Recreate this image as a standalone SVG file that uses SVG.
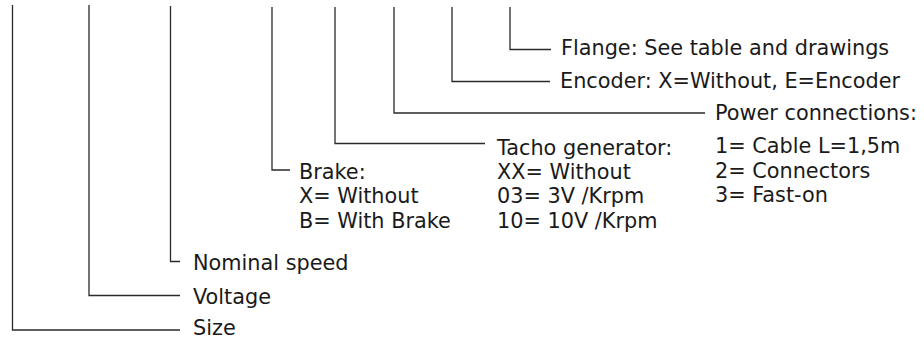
<svg xmlns="http://www.w3.org/2000/svg" width="924" height="341" viewBox="0 0 924 341">
<style>
.c{fill:none;stroke:#2a2a2a;stroke-width:1.3}
.t{font-family:"DejaVu Sans",Verdana,sans-serif;font-size:20.8px;fill:#1a1a1a}
</style>
<rect width="924" height="341" fill="#fff"/>
<g id="connectors">
<path class="c" d="M12.5 5V330H180"/>
<path class="c" d="M89 5V295.5H180"/>
<path class="c" d="M170.5 6V261.5H180"/>
<path class="c" d="M272 7V170H290"/>
<path class="c" d="M335 7V143.5H485"/>
<path class="c" d="M394 7V113H705"/>
<path class="c" d="M452 7V81.5H550"/>
<path class="c" d="M510 7V49.5H551"/>
</g>
<g id="flange"><text class="t" x="561" y="55">Flange: See table and drawings</text></g>
<g id="encoder"><text class="t" x="560" y="87.5">Encoder: X=Without, E=Encoder</text></g>
<g id="power"><text class="t" x="715" y="119.5">Power connections:</text>
<text class="t" x="715" y="153">1= Cable L=1,5m</text>
<text class="t" x="715" y="177.5">2= Connectors</text>
<text class="t" x="715" y="202">3= Fast-on</text></g>
<g id="tacho"><text class="t" x="497" y="154.5">Tacho generator:</text>
<text class="t" x="497" y="178.5">XX= Without</text>
<text class="t" x="497" y="203">03= 3V /Krpm</text>
<text class="t" x="497" y="227.5">10= 10V /Krpm</text></g>
<g id="brake"><text class="t" x="299" y="178.5">Brake:</text>
<text class="t" x="299" y="203">X= Without</text>
<text class="t" x="299" y="227.5">B= With Brake</text></g>
<g id="nominal"><text class="t" x="193" y="270">Nominal speed</text></g>
<g id="voltage"><text class="t" x="193" y="304">Voltage</text></g>
<g id="size"><text class="t" x="193" y="334.5">Size</text></g>
</svg>
